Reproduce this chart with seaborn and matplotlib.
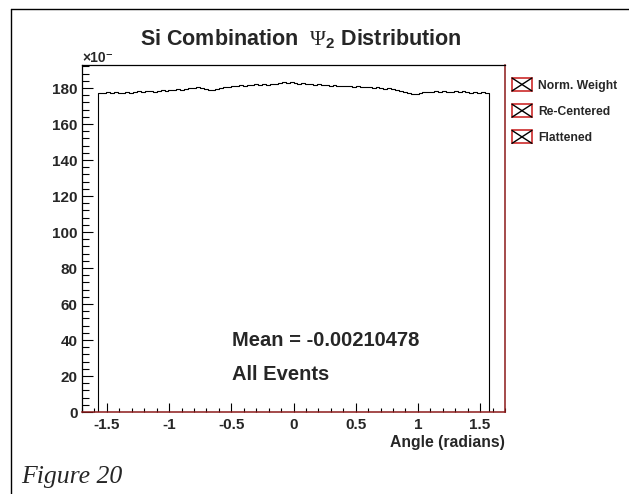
import numpy as np
import pandas as pd
import matplotlib
matplotlib.use("Agg")
import matplotlib.pyplot as plt
import seaborn as sns
from matplotlib.patches import Rectangle
from matplotlib.lines import Line2D
from matplotlib.legend_handler import HandlerBase
from matplotlib.ticker import MultipleLocator, FormatStrFormatter

# ---------------- data (values in units of 10^-3) ----------------
x_min = -1.5708
x_max = 1.5708
n_bins = 100
bin_values = [
    177.4, 177.1, 177.6, 177.3, 177.8, 177.2, 177.5, 177.9, 177.4, 177.7, 178.1, 177.8,
    178.2, 178.5, 178.0, 178.6, 178.9, 178.4, 179.0, 178.7, 179.3, 179.1,
    179.6, 180.2, 179.8, 180.4, 179.9, 179.5,
    179.1, 178.9, 179.4, 179.8, 180.3,
    180.8, 181.2, 180.9, 181.5, 181.3, 181.8, 181.6, 182.0, 181.7, 182.2, 181.9, 182.4, 182.1,
    182.8, 183.4, 183.0, 183.6, 182.9,
    182.5, 182.7, 182.2, 182.4, 181.9, 182.1, 181.6, 181.8, 181.3, 181.5,
    181.0, 181.3, 180.9, 181.2, 180.7, 181.0, 180.5, 180.8, 180.3, 180.0, 180.4, 179.8,
    179.5, 179.9, 179.2, 178.7, 178.3, 177.6, 177.0, 176.8,
    176.6, 177.1, 177.6, 178.0,
    177.7, 178.2, 177.9, 178.4, 178.0, 177.6, 178.1, 177.8, 178.3, 177.9, 177.5, 177.8, 177.4, 177.7, 177.3,
]
legend_labels = ["Norm. Weight", "Re-Centered", "Flattened"]
mean_text = "Mean = -0.00210478"
events_text = "All Events"
title_text = r"Si Combination  $\mathrm{\Psi}_{\mathbf{2}}$ Distribution"
x_label = "Angle (radians)"
exp_text = "×10⁻"
fig_caption = "Figure 20"

# ---------------- style ----------------
sns.set_style("ticks")
plt.rcParams["font.family"] = ["Liberation Sans", "DejaVu Sans"]
plt.rcParams["mathtext.fontset"] = "custom"
plt.rcParams["mathtext.rm"] = "Liberation Serif"
plt.rcParams["mathtext.it"] = "Liberation Serif:italic"
plt.rcParams["mathtext.bf"] = "Liberation Sans:bold"

W, H = 629, 494
fig = plt.figure(figsize=(W / 100, H / 100), dpi=100)
fig.patch.set_facecolor("white")

def fx(px):
    return px / W

def fy(py):
    return 1 - py / H

ax_l, ax_r, ax_t, ax_b = 82, 505, 65, 412
ax = fig.add_axes([fx(ax_l), fy(ax_b), (ax_r - ax_l) / W, (ax_b - ax_t) / H])

edges = np.linspace(x_min, x_max, n_bins + 1)
centers = 0.5 * (edges[:-1] + edges[1:])
df_hist = pd.DataFrame({"angle": centers, "w": np.array(bin_values)})
sns.histplot(data=df_hist, x="angle", weights="w", bins=list(edges), element="step",
             fill=False, color="black", linewidth=0.8, ax=ax)
ax.vlines([edges[0], edges[-1]], 0, [bin_values[0], bin_values[-1]], color="black", linewidth=0.8)

ax.set_xlim(-1.70, 1.70)
ax.set_ylim(0, 1.05 * max(bin_values))
ax.set_xlabel("")
ax.set_ylabel("")

dark_red = "#8b1a1a"
for side in ["left", "top"]:
    ax.spines[side].set_color("black")
    ax.spines[side].set_linewidth(0.9)
for side in ["bottom", "right"]:
    ax.spines[side].set_color(dark_red)
    ax.spines[side].set_linewidth(1.1)

ax.xaxis.set_major_locator(MultipleLocator(0.5))
ax.xaxis.set_minor_locator(MultipleLocator(0.1))
ax.xaxis.set_major_formatter(FormatStrFormatter("%g"))
ax.yaxis.set_major_locator(MultipleLocator(20))
ax.yaxis.set_minor_locator(MultipleLocator(4))
ax.tick_params(axis="both", which="both", direction="in", color="black", width=0.8)
ax.tick_params(axis="x", which="major", length=6.5, pad=4, labelsize=11)
ax.tick_params(axis="x", which="minor", length=3.2)
ax.tick_params(axis="y", which="major", length=8, pad=3, labelsize=11)
ax.tick_params(axis="y", which="minor", length=5)
for lab in ax.get_xticklabels() + ax.get_yticklabels():
    lab.set_fontweight("bold")

# title and texts
fig.text(fx(301), fy(38), title_text, ha="center", va="center", fontsize=15.5, fontweight="bold")
fig.text(fx(82), fy(58), exp_text, ha="left", va="center", fontsize=10, fontweight="bold")
fig.text(fx(232), fy(340), mean_text, ha="left", va="center", fontsize=14.5, fontweight="bold")
fig.text(fx(232), fy(374), events_text, ha="left", va="center", fontsize=14.5, fontweight="bold")
fig.text(fx(505), fy(442), x_label, ha="right", va="center", fontsize=11.3, fontweight="bold")
fig.text(fx(21), fy(483), fig_caption, ha="left", va="baseline", fontsize=18.5,
         family=["Liberation Serif", "DejaVu Serif"], style="italic")

# outer frame
fig.add_artist(Line2D([fx(10.5), 1.0], [fy(9), fy(9)], color="black", lw=1.0, transform=fig.transFigure))
fig.add_artist(Line2D([fx(10.5), fx(10.5)], [fy(9), 0.0], color="black", lw=1.0, transform=fig.transFigure))

# legend with boxed-X markers
class BoxEntry:
    pass

class BoxXHandler(HandlerBase):
    def create_artists(self, legend, orig_handle, xdescent, ydescent, width, height, fontsize, trans):
        x0, y0 = -xdescent, -ydescent
        r = Rectangle((x0, y0), width, height, facecolor="white", edgecolor="#cc2a2a", lw=1.2, transform=trans)
        l1 = Line2D([x0, x0 + width], [y0, y0 + height], color="black", lw=1.0, transform=trans)
        l2 = Line2D([x0, x0 + width], [y0 + height, y0], color="black", lw=1.0, transform=trans)
        return [r, l1, l2]

handles = [BoxEntry() for _ in legend_labels]
leg = fig.legend(handles, legend_labels, handler_map={BoxEntry: BoxXHandler()},
                 loc="upper left", bbox_to_anchor=(fx(512), fy(78)), frameon=False,
                 borderpad=0, borderaxespad=0, handlelength=1.65, handleheight=1.27,
                 handletextpad=0.5, labelspacing=1.05, fontsize=8.7)
for t in leg.get_texts():
    t.set_fontweight("bold")

fig.savefig("out.png", dpi=100, facecolor="white")
